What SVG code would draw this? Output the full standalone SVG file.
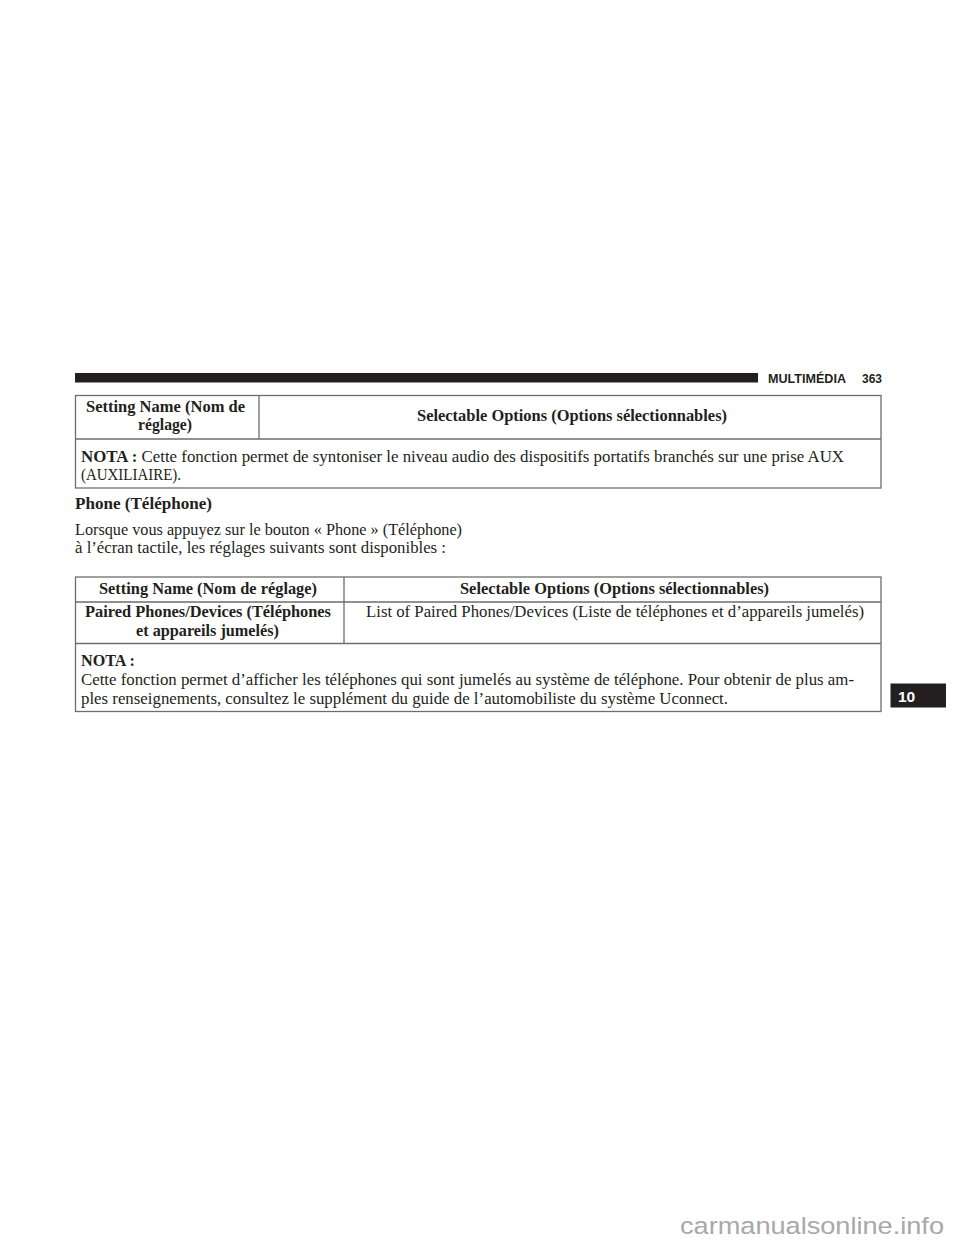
<svg xmlns="http://www.w3.org/2000/svg" width="960" height="1242" viewBox="0 0 960 1242">
<style>
text{font-family:"Liberation Serif","DejaVu Serif",serif;font-size:16.6px;fill:#231f20;}
.b{font-weight:bold;}
.h{font-family:"Liberation Sans",Arial,sans-serif;font-weight:bold;font-size:13px;}
.l{fill:none;stroke:#6e6e6e;stroke-width:1.3;}
.w{font-family:"Liberation Sans",Arial,sans-serif;font-size:24.5px;fill:#a8a8a8;}
.t{font-family:"Liberation Sans",Arial,sans-serif;font-weight:bold;font-size:15.5px;fill:#fff;}
</style>
<rect width="960" height="1242" fill="#fff"/>
<g id="header">
<rect x="75" y="373" width="683" height="9.5" fill="#231f20"/>
<text class="h" x="768" y="383" textLength="78" lengthAdjust="spacingAndGlyphs">MULTIMÉDIA</text>
<text class="h" x="862" y="383" textLength="20" lengthAdjust="spacingAndGlyphs">363</text>
</g>
<g id="table1">
<rect class="l" x="75.5" y="395.5" width="805.5" height="92.5"/>
<path class="l" d="M75.5 439H881M259 395.5V439"/>
<text class="b" x="86" y="412" textLength="159" lengthAdjust="spacingAndGlyphs">Setting Name (Nom de</text>
<text class="b" x="138" y="430" textLength="54" lengthAdjust="spacingAndGlyphs">réglage)</text>
<text class="b" x="417" y="421" textLength="310" lengthAdjust="spacingAndGlyphs">Selectable Options (Options sélectionnables)</text>
<text x="81" y="462" textLength="763" lengthAdjust="spacingAndGlyphs"><tspan class="b">NOTA :</tspan> Cette fonction permet de syntoniser le niveau audio des dispositifs portatifs branchés sur une prise AUX</text>
<text x="81" y="480" textLength="100" lengthAdjust="spacingAndGlyphs">(AUXILIAIRE).</text>
</g>
<g id="intro">
<text class="b" x="75" y="508.5" textLength="137" lengthAdjust="spacingAndGlyphs">Phone (Téléphone)</text>
<text x="75" y="535" textLength="387" lengthAdjust="spacingAndGlyphs">Lorsque vous appuyez sur le bouton « Phone » (Téléphone)</text>
<text x="75" y="553" textLength="371" lengthAdjust="spacingAndGlyphs">à l’écran tactile, les réglages suivants sont disponibles :</text>
</g>
<g id="table2">
<rect class="l" x="75.5" y="577" width="805.5" height="134.5"/>
<path class="l" d="M75.5 602H881M75.5 643.5H881M344 577V643.5"/>
<text class="b" x="99" y="593.5" textLength="218" lengthAdjust="spacingAndGlyphs">Setting Name (Nom de réglage)</text>
<text class="b" x="460" y="593.5" textLength="309" lengthAdjust="spacingAndGlyphs">Selectable Options (Options sélectionnables)</text>
<text class="b" x="85" y="617" textLength="246" lengthAdjust="spacingAndGlyphs">Paired Phones/Devices (Téléphones</text>
<text class="b" x="136" y="636" textLength="143" lengthAdjust="spacingAndGlyphs">et appareils jumelés)</text>
<text x="366" y="617" textLength="498" lengthAdjust="spacingAndGlyphs">List of Paired Phones/Devices (Liste de téléphones et d’appareils jumelés)</text>
<text class="b" x="81" y="666" textLength="54" lengthAdjust="spacingAndGlyphs">NOTA :</text>
<text x="81" y="685" textLength="773" lengthAdjust="spacingAndGlyphs">Cette fonction permet d’afficher les téléphones qui sont jumelés au système de téléphone. Pour obtenir de plus am-</text>
<text x="81" y="704" textLength="647" lengthAdjust="spacingAndGlyphs">ples renseignements, consultez le supplément du guide de l’automobiliste du système Uconnect.</text>
</g>
<g id="tab">
<rect x="890.5" y="683.5" width="55.5" height="24" fill="#231f20"/>
<text class="t" x="898" y="702">10</text>
</g>
<g id="watermark">
<text class="w" x="680" y="1234" textLength="264" lengthAdjust="spacingAndGlyphs">carmanualsonline.info</text>
</g>
</svg>
